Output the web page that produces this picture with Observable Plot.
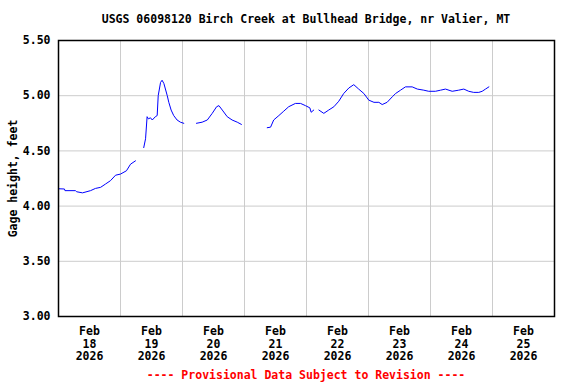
<!DOCTYPE html>
<html><head><meta charset="utf-8">
<script src="https://cdn.jsdelivr.net/npm/d3@7"></script>
<script src="https://cdn.jsdelivr.net/npm/@observablehq/plot@0.6"></script>
<style>
body{margin:0;background:#fff;}
#wrap{position:relative;width:576px;height:384px;font-family:"DejaVu Sans Mono",monospace;font-weight:bold;}
#title{position:absolute;left:58px;width:496px;top:12px;text-align:center;font-size:11.5px;color:#000;}
#foot{position:absolute;left:58px;width:496px;top:368px;text-align:center;font-size:11.5px;color:#ff0000;}
#chart{position:absolute;left:0;top:30px;}
</style></head>
<body><div id="wrap">
<div id="title">USGS 06098120 Birch Creek at Bullhead Bridge, nr Valier, MT</div>
<div id="chart"></div>
<div id="foot">---- Provisional Data Subject to Revision ----</div>
</div>
<script>
const startDate = "2026-02-18T00:00:00Z";
const dayLabels = ["Feb\n18\n2026","Feb\n19\n2026","Feb\n20\n2026","Feb\n21\n2026","Feb\n22\n2026","Feb\n23\n2026","Feb\n24\n2026","Feb\n25\n2026"];
const yTicks = [3.0, 3.5, 4.0, 4.5, 5.0, 5.5];
// hours since Feb 18 00:00 and gage height (ft); null = gap
const hours = [0.1,2.3,2.5,6.6,7.0,9.3,12.4,14.3,16.3,18.2,20.1,22.1,24.0,26.3,27.9,29.8,
  31.0,
  33.0,33.7,34.3,34.8,35.6,36.3,37.5,38.2,38.6,39.5,40.1,40.8,42.1,42.7,43.6,44.6,45.9,47.2,48.5,
  50.0,
  53.4,55.6,57.6,59.5,61.2,62.1,63.4,65.3,67.2,69.2,70.8,
  75.0,
  80.8,82.1,83.3,85.3,87.2,89.1,91.7,93.7,95.6,97.3,97.8,98.8,
  99.8,
  100.8,102.7,104.6,106.6,108.5,110.4,112.4,114.3,116.2,118.2,120.1,122.1,124.0,125.3,127.2,129.2,130.5,132.4,134.3,136.9,138.9,141.4,143.3,145.9,147.9,149.8,152.4,154.9,156.9,158.8,160.7,162.7,164.0,165.3,166.6];
const gage = [4.157,4.155,4.14,4.14,4.13,4.12,4.14,4.16,4.17,4.20,4.23,4.28,4.29,4.32,4.38,4.41,
  null,
  4.53,4.61,4.81,4.79,4.80,4.78,4.81,4.82,5.00,5.12,5.14,5.11,5.00,4.94,4.87,4.82,4.78,4.76,4.75,
  null,
  4.75,4.76,4.78,4.84,4.90,4.91,4.87,4.81,4.78,4.76,4.74,
  null,
  4.71,4.715,4.78,4.82,4.86,4.90,4.93,4.93,4.91,4.89,4.85,4.87,
  null,
  4.87,4.84,4.87,4.90,4.95,5.02,5.07,5.10,5.06,5.02,4.96,4.94,4.94,4.92,4.94,4.99,5.02,5.05,5.08,5.08,5.06,5.05,5.04,5.04,5.05,5.06,5.04,5.05,5.06,5.04,5.03,5.03,5.04,5.06,5.08];

const t0 = new Date(startDate).getTime();
const H = 3600e3;
const data = hours.map((h,i)=>({t:new Date(t0+h*H), v:gage[i]}));
const midnights = d3.range(0,9).map(d=>new Date(t0+d*24*H));
const noons = d3.range(0,8).map(d=>new Date(t0+(d*24+12)*H));

const chart = Plot.plot({
  width: 576, height: 340,
  marginLeft: 58, marginRight: 22, marginTop: 10, marginBottom: 54,
  style: {fontFamily: "DejaVu Sans Mono, monospace", fontSize: "11.5px", fontWeight: "bold", color: "#000", background: "#fff"},
  x: {type: "utc", domain: [midnights[0], midnights[8]]},
  y: {domain: [3.0, 5.5]},
  marks: [
    Plot.gridX(midnights, {stroke: "#cccccc", strokeOpacity: 1, strokeWidth: 1}),
    Plot.gridY(yTicks, {stroke: "#cccccc", strokeOpacity: 1, strokeWidth: 1}),
    Plot.axisX(noons, {tickSize: 0, tickPadding: 9, lineHeight: 1.12, tickFormat: (d,i)=>dayLabels[i], label: null}),
    Plot.axisY(yTicks, {tickSize: 0, tickPadding: 8, tickFormat: d=>d.toFixed(2), label: "Gage height, feet", labelAnchor: "center", labelArrow: "none", labelOffset: 50}),
    Plot.line(data, {x: "t", y: "v", stroke: "#0000ff", strokeWidth: 1, curve: "linear"}),
    Plot.frame({stroke: "#000", strokeWidth: 1.5})
  ]
});
document.getElementById("chart").appendChild(chart);
</script>
</body></html>
